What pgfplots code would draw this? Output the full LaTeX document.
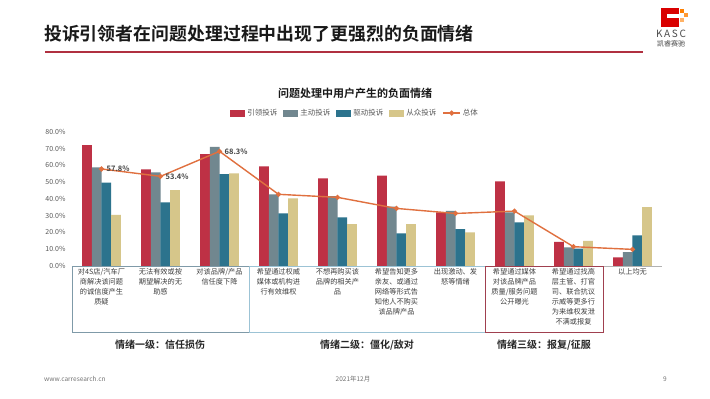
\documentclass[border=0pt]{standalone}
\usepackage{pgfplots}
\pgfplotsset{compat=1.18}
\usepackage{fontspec}
\setmainfont{Noto Sans CJK SC}[BoldFont={Noto Sans CJK SC Bold}]
\definecolor{cRed}{HTML}{BE3145}
\definecolor{cGray}{HTML}{71878F}
\definecolor{cTeal}{HTML}{2C738D}
\definecolor{cTan}{HTML}{D6C68A}
\definecolor{cLine}{HTML}{E0703F}
\definecolor{txt}{HTML}{404040}
\definecolor{tick}{HTML}{595959}
\definecolor{box1}{HTML}{7F9AA8}
\definecolor{box2}{HTML}{9CC3D5}
\definecolor{box3}{HTML}{A0404F}
\definecolor{ttl}{HTML}{B03040}
\begin{document}
\begin{tikzpicture}[x=1pt,y=1pt]
\useasboundingbox (0,0) rectangle (710,399);
\fill[white] (0,0) rectangle (710,399);
% title
\node[anchor=west,inner sep=0pt,font=\fontsize{17.9}{20}\selectfont\bfseries,text=black!90] at (44,365) {投诉引领者在问题处理过程中出现了更强烈的负面情绪};
\draw[ttl,line width=1.3pt] (45,347) -- (643,347);
% logo
\fill[red!85!black] (661,372) rectangle (679,391);
\fill[white] (667,381) rectangle (679,385);
\fill[orange] (680,386) rectangle (684,390);
\fill[orange!80] (684,382) rectangle (688,386);
\fill[orange!60] (680,377) rectangle (684,381);
\node[font=\fontsize{10}{11}\selectfont,text=black!70] at (671,365) {K\,A\,S\,C};
\node[font=\fontsize{7}{8}\selectfont,text=black!70] at (671,355) {凯睿赛驰};
% subtitle
\node[font=\fontsize{11}{13}\selectfont\bfseries,text=black!90] at (355,306) {问题处理中用户产生的负面情绪};
\begin{axis}[
  at={(72pt,133pt)}, anchor=south west, scale only axis,
  width=590pt, height=134.3pt,
  xmin=-0.5, xmax=9.5, ymin=0, ymax=80,
  axis x line*=bottom, axis y line*=left,
  y axis line style={draw=none},
  x axis line style={draw=black!30, line width=0.6pt},
  major tick length=0pt,
  ytick={0,10,...,80},
  /pgf/number format/assume math mode=true,
  yticklabel={\pgfmathprintnumber[fixed,fixed zerofill,precision=1]{\tick}\%},
  yticklabel style={font=\fontsize{7}{8}\selectfont, text=tick, xshift=-3pt},
  xtick={0,...,9},
  xticklabels={
    {对4S店/汽车厂\\商解决该问题\\的诚信度产生\\质疑},
    {无法有效或按\\期望解决的无\\助感},
    {对该品牌/产品\\信任度下降},
    {希望通过权威\\媒体或机构进\\行有效维权},
    {不想再购买该\\品牌的相关产\\品},
    {希望告知更多\\亲友、或通过\\网络等形式告\\知他人不购买\\该品牌产品},
    {出现激动、发\\怒等情绪},
    {希望通过媒体\\对该品牌产品\\质量/服务问题\\公开曝光},
    {希望通过找高\\层主管、打官\\司、联合抗议\\示威等更多行\\为来维权发泄\\不满或报复},
    {以上均无}},
  xticklabel style={align=center, font=\fontsize{7.2}{10}\selectfont, text=txt, anchor=north, inner sep=2pt},
  legend columns=5,
  legend style={draw=none, fill=none, at={(0.48,1.139)}, anchor=center,
    font=\fontsize{7.5}{9}\selectfont, text=tick,
    /tikz/every even column/.style={column sep=4pt},
    inner sep=0pt, cells={anchor=west}},
  clip=false,
]
\addplot[ybar, bar width=9.75pt, bar shift=-14.6pt, fill=cRed, draw=none,
  legend image code/.code={\fill[cRed] (0pt,-3.5pt) rectangle (15pt,3.5pt);}]
  coordinates {(0,72.0) (1,57.5) (2,66.7) (3,59.3) (4,52.2) (5,53.8) (6,31.9) (7,50.4) (8,14.3) (9,5.2)};
\addlegendentry{引领投诉}
\addplot[ybar, bar width=9.75pt, bar shift=-4.87pt, fill=cGray, draw=none,
  legend image code/.code={\fill[cGray] (0pt,-3.5pt) rectangle (15pt,3.5pt);}]
  coordinates {(0,58.7) (1,55.8) (2,71.0) (3,42.7) (4,41.7) (5,35.3) (6,32.9) (7,31.9) (8,11.1) (9,8.3)};
\addlegendentry{主动投诉}
\addplot[ybar, bar width=9.75pt, bar shift=4.87pt, fill=cTeal, draw=none,
  legend image code/.code={\fill[cTeal] (0pt,-3.5pt) rectangle (15pt,3.5pt);}]
  coordinates {(0,49.6) (1,37.9) (2,54.8) (3,31.3) (4,29.0) (5,19.4) (6,22.0) (7,26.0) (8,10.3) (9,18.3)};
\addlegendentry{驱动投诉}
\addplot[ybar, bar width=9.75pt, bar shift=14.6pt, fill=cTan, draw=none,
  legend image code/.code={\fill[cTan] (0pt,-3.5pt) rectangle (15pt,3.5pt);}]
  coordinates {(0,30.4) (1,45.2) (2,55.2) (3,40.3) (4,25.0) (5,25.0) (6,20.0) (7,30.2) (8,14.9) (9,35.1)};
\addlegendentry{从众投诉}
\addplot[sharp plot, color=cLine, line width=1.4pt, mark=*, mark size=1.8pt, mark options={fill=cLine, draw=cLine}]
  coordinates {(0,57.8) (1,53.4) (2,68.3) (3,42.7) (4,40.9) (5,34.3) (6,31.3) (7,32.7) (8,11.5) (9,9.9)};
\addlegendentry{总体}
\addplot[forget plot, draw=none, mark=none, point meta=y,
  nodes near coords={\pgfmathprintnumber[fixed,fixed zerofill,precision=1]{\pgfplotspointmeta}\%},
  nodes near coords style={anchor=west, xshift=4pt, inner sep=1pt, font=\fontsize{7.5}{9}\selectfont\bfseries, text=txt}]
  coordinates {(0,57.8) (1,53.4) (2,68.3)};
\end{axis}
% group boxes
\draw[box1, line width=0.8pt] (72,133) rectangle (249,67);
\draw[box2, line width=0.8pt] (249,133) rectangle (485,67);
\draw[box3, line width=0.8pt] (485,133) rectangle (603,67);
\node[font=\fontsize{10}{12}\selectfont\bfseries,text=black!85] at (160,54) {情绪一级：信任损伤};
\node[font=\fontsize{10}{12}\selectfont\bfseries,text=black!85] at (367,54) {情绪二级：僵化/敌对};
\node[font=\fontsize{10}{12}\selectfont\bfseries,text=black!85] at (544,54) {情绪三级：报复/征服};
% footer
\node[anchor=west,font=\fontsize{6.5}{8}\selectfont,text=black!55,inner sep=0pt] at (44,20) {www.carresearch.cn};
\node[font=\fontsize{6.5}{8}\selectfont,text=black!55,inner sep=0pt] at (353,20) {2021年12月};
\node[font=\fontsize{6.5}{8}\selectfont,text=black!55,inner sep=0pt] at (665,20) {9};
\end{tikzpicture}
\end{document}
